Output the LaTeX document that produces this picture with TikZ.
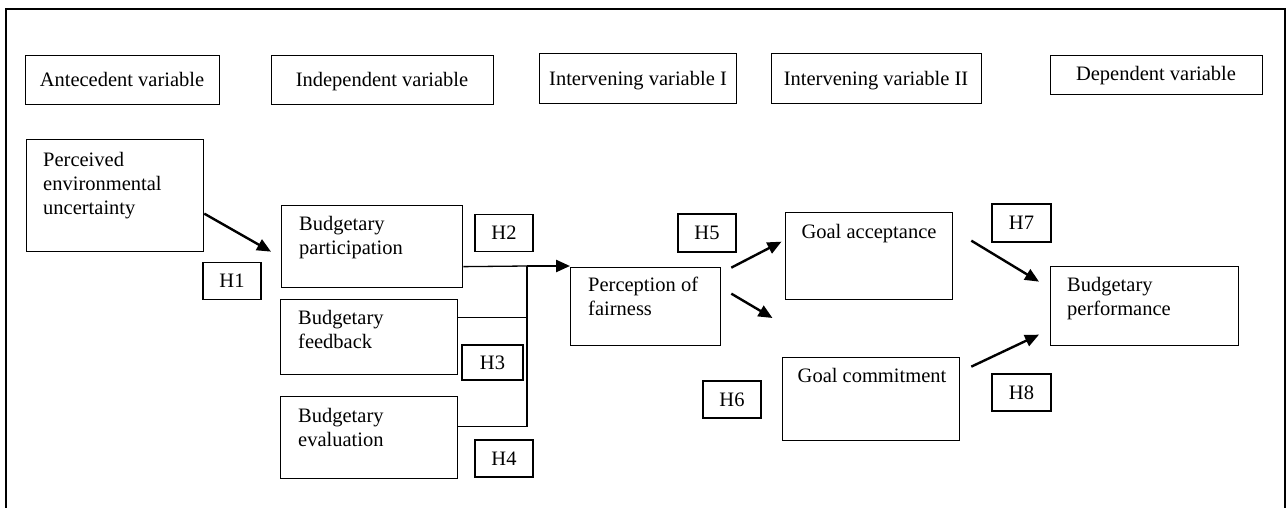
\documentclass[tikz,border=0pt]{standalone}
\usepackage{fontspec}
\setmainfont{Liberation Serif}
\usetikzlibrary{arrows.meta}

\tikzset{
  box/.style={draw=black, line width=1.3pt, inner sep=0pt, anchor=north west},
  hbox/.style={draw=black, line width=1.3pt, inner sep=0pt, minimum width=58pt, minimum height=37pt},
  txt/.style={inner sep=0pt, anchor=base west, align=left},
  ctxt/.style={inner sep=0pt, anchor=base},
  link/.style={line width=1.3pt},
  arr/.style={line width=2.4pt, -{Triangle[length=14pt,width=12pt]}}
}

\begin{document}
\begin{tikzpicture}[x=1pt, y=-1pt, font=\fontsize{20.5}{24}\selectfont]
  %%%%% START %%%%%
  \useasboundingbox (0,0) rectangle (1287,508);

  % open frame
  \draw[line width=1.5pt] (6,508) -- (6,9) -- (1285,9) -- (1285,508);

  % column headings
  \node[box, minimum width=194pt, minimum height=49pt] (hant) at (25,55) {};
  \node[ctxt] (hantt) at (122,87) {Antecedent variable};
  \node[box, minimum width=222pt, minimum height=49pt] (hind) at (271,55) {};
  \node[ctxt] (hindt) at (382,87) {Independent variable};
  \node[box, minimum width=197pt, minimum height=50pt] (hint1) at (539,53) {};
  \node[ctxt] (hint1t) at (638,86) {Intervening variable I};
  \node[box, minimum width=210pt, minimum height=50pt] (hint2) at (771,53) {};
  \node[ctxt] (hint2t) at (876,86) {Intervening variable II};
  \node[box, minimum width=212pt, minimum height=39pt] (hdep) at (1050,55) {};
  \node[ctxt] (hdept) at (1156,81) {Dependent variable};

  % variables (text placed at the baseline of its last line)
  \node[box, minimum width=177pt, minimum height=112pt] (peu) at (26,139) {};
  \node[txt] (peut) at (43,214) {Perceived\\environmental\\uncertainty};
  \node[box, minimum width=181pt, minimum height=82pt] (bpart) at (281,205) {};
  \node[txt] (bpartt) at (299,254.5) {Budgetary\\participation};
  \node[box, minimum width=177pt, minimum height=75pt] (bfeed) at (280,299) {};
  \node[txt] (bfeedt) at (298,348.5) {Budgetary\\feedback};
  \node[box, minimum width=177pt, minimum height=82pt] (beval) at (280,396) {};
  \node[txt] (bevalt) at (298,446) {Budgetary\\evaluation};
  \node[box, minimum width=150pt, minimum height=78pt] (fair) at (570,267) {};
  \node[txt] (fairt) at (588,315.5) {Perception of\\fairness};
  \node[box, minimum width=167pt, minimum height=87pt] (gacc) at (785,212) {};
  \node[ctxt] (gacct) at (869,238) {Goal acceptance};
  \node[box, minimum width=177pt, minimum height=83pt] (gcom) at (782,357) {};
  \node[ctxt] (gcomt) at (872,382) {Goal commitment};
  \node[box, minimum width=188pt, minimum height=79pt] (bperf) at (1050,266) {};
  \node[txt] (bperft) at (1067,315.5) {Budgetary\\performance};

  % hypotheses
  \node[hbox] (h1) at (232,281) {H1};
  \node[hbox] (h2) at (504,233) {H2};
  \node[hbox, minimum width=61pt, minimum height=35pt] (h3) at (492.5,362.5) {H3};
  \node[hbox] (h4) at (504,458.5) {H4};
  \node[hbox, minimum height=38pt] (h5) at (707,233) {H5};
  \node[hbox] (h6) at (732,399.5) {H6};
  \node[hbox, minimum width=59pt, minimum height=38pt] (h7) at (1021.5,223) {H7};
  \node[hbox, minimum width=59pt] (h8) at (1021.5,392.5) {H8};

  % connectors
  \draw[arr] ([yshift=-18pt]peu.east) -- ([xshift=-10pt,yshift=-5pt]bpart.west);

  \coordinate (join) at (527,266);
  \draw[link] ([yshift=-20pt]bpart.east) -- (join);
  \draw[link] ([yshift=20pt]bfeed.east) -- ([yshift=20pt]bfeed.east -| join);
  \draw[link] ([yshift=11pt]beval.east) -- ([yshift=11pt]beval.east -| join);
  \draw[link] (join) -- ([yshift=11pt]beval.east -| join);
  \draw[arr] (join) -- (join -| fair.west);

  \coordinate (gap) at ([xshift=-9.5pt,yshift=39pt]gcom.north west);
  \draw[arr] ([xshift=10pt,yshift=39pt]fair.east) -- ([xshift=-3.5pt,yshift=14.5pt]gacc.west);
  \draw[arr] ([xshift=10pt,yshift=13pt]fair.east) -- (gap);

  \draw[arr] ([xshift=18pt,yshift=15.5pt]gacc.east) -- ([xshift=-11pt,yshift=24.5pt]bperf.west);
  \draw[arr] ([xshift=11pt,yshift=32.5pt]gcom.east) -- ([xshift=-11pt,yshift=-28.5pt]bperf.west);
  %%%%% END %%%%%
\end{tikzpicture}
\end{document}
